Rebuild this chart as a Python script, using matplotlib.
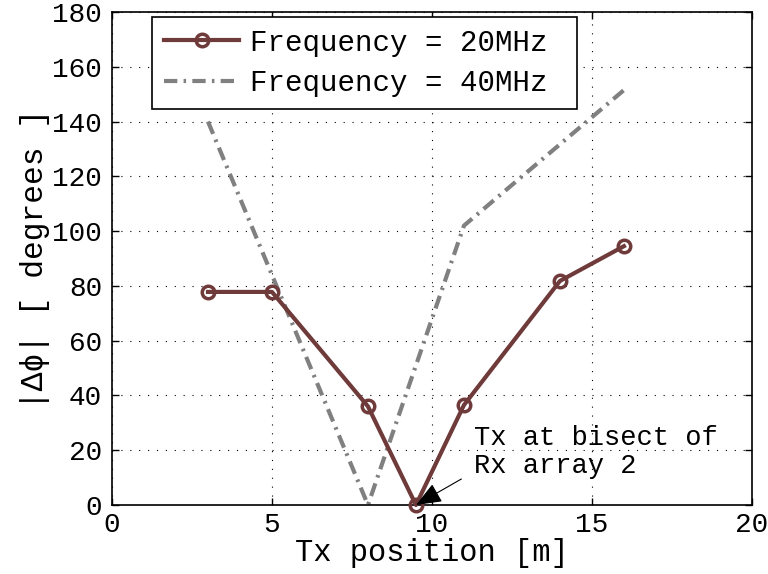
import matplotlib
matplotlib.use("Agg")
import matplotlib.pyplot as plt

x20 = [3, 5, 8, 9.5, 11, 14, 16]
y20 = [77.8, 77.8, 36.0, 0.0, 36.5, 81.8, 94.5]
x40 = [3, 8, 11, 16]
y40 = [140.0, 0.0, 102.0, 151.5]
xticks = [0, 5, 10, 15, 20]
yticks = [0, 20, 40, 60, 80, 100, 120, 140, 160, 180]
labels = ["Frequency = 20MHz", "Frequency = 40MHz"]

fam = ['Liberation Mono', 'DejaVu Sans Mono']
plt.rcParams['font.family'] = fam

fig = plt.figure(figsize=(7.68, 5.74), dpi=100)
ax = fig.add_axes([0.1458, 0.1202, 0.8333, 0.8589])

ax.plot(x20, y20, color='#6f3a3a', lw=3, marker='o', ms=9, mfc='none',
        mec='#6f3a3a', mew=2.5, label=labels[0], zorder=3, clip_on=False)
ax.plot(x40, y40, color='#808080', lw=3, ls=(0, (3.2, 1.5, 0.6, 1.5)),
        label=labels[1], zorder=2)

ax.set_xlim(0, 20)
ax.set_ylim(0, 180)
ax.set_xticks(xticks)
ax.set_yticks(yticks)
ax.tick_params(direction='in', top=True, right=True, labelsize=20, length=5, width=1)
ax.tick_params(axis='y', pad=7)
ax.tick_params(axis='x', pad=5)
ax.grid(True, ls=(0, (1, 7)), color='black', lw=0.8)
for s in ax.spines.values():
    s.set_linewidth(1.2)

ax.set_xlabel("Tx position [m]", fontsize=22, labelpad=0)
ax.set_ylabel("|Δϕ| [ degrees ]", fontsize=22.5, labelpad=2)

ax.annotate("Tx at bisect of\nRx array 2", xy=(9.5, 0), xytext=(11.3, 9.5),
            fontsize=19.5, ha='left', va='bottom', linespacing=1.1,
            arrowprops=dict(arrowstyle='-|>,head_length=0.8,head_width=0.32',
                            color='black', lw=0.8,
                            mutation_scale=20, shrinkA=0, shrinkB=0,
                            relpos=(-0.05, 0.0)), zorder=5)

leg = ax.legend(loc='upper left', bbox_to_anchor=(0.0625, 0.0, 0.664, 0.99),
                mode='expand', fontsize=21,
                frameon=True, fancybox=False, edgecolor='black', framealpha=1,
                handlelength=2.6, borderpad=0.4, labelspacing=0.42, handletextpad=0.35,
                borderaxespad=0)
leg.get_frame().set_linewidth(1.2)

fig.savefig("out.png", dpi=100)
